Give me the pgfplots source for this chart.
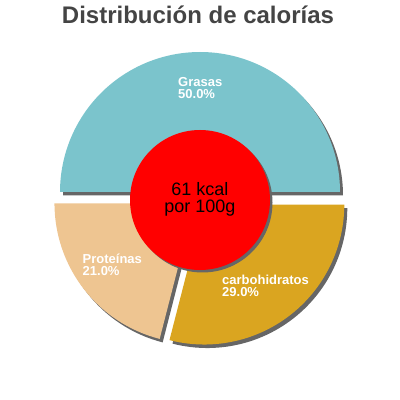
\documentclass[border=0pt]{standalone}
\usepackage{pgfplots}
\pgfplotsset{compat=1.18}
\usepackage{fontspec}
\setmainfont{Liberation Sans}
\definecolor{cG}{HTML}{7BC4CC}
\definecolor{cP}{HTML}{EEC591}
\definecolor{cC}{HTML}{DAA520}
\definecolor{cS}{HTML}{666666}
\definecolor{cT}{HTML}{444444}
% values (percent of calories)
\def\vG{50.0}
\def\vP{21.0}
\def\vC{29.0}
\pgfkeys{/pgf/number format/assume math mode=true}
\begin{document}
\begin{tikzpicture}
\useasboundingbox (0,0) rectangle (400pt,400pt);
\pgfmathsetmacro{\gS}{0}
\pgfmathsetmacro{\gE}{\gS+3.6*\vG}
\pgfmathsetmacro{\pS}{\gE}
\pgfmathsetmacro{\pE}{\pS+3.6*\vP}
\pgfmathsetmacro{\cS}{\pE}
\pgfmathsetmacro{\cE}{\cS+3.6*\vC}
\pgfmathsetmacro{\gM}{(\gS+\gE)/2}
\pgfmathsetmacro{\pM}{(\pS+\pE)/2}
\pgfmathsetmacro{\cM}{(\cS+\cE)/2}
\begin{axis}[at={(0,0)},anchor=south west,width=400pt,height=400pt,scale only axis,
  xmin=0,xmax=400,ymin=0,ymax=400,enlargelimits=false,hide axis,clip=false]
% shadows
\fill[cS,shift={(\gM:7pt)},xshift=3pt,yshift=-3.5pt] (axis cs:200,201) -- ++(\gS:140pt) arc[start angle=\gS,end angle=\gE,radius=140pt] -- cycle;
\fill[cS,shift={(\pM:7pt)},xshift=3pt,yshift=-3.5pt] (axis cs:200,201) -- ++(\pS:140pt) arc[start angle=\pS,end angle=\pE,radius=140pt] -- cycle;
\fill[cS,shift={(\cM:7pt)},xshift=3pt,yshift=-3.5pt] (axis cs:200,201) -- ++(\cS:140pt) arc[start angle=\cS,end angle=\cE,radius=140pt] -- cycle;
% slices
\fill[cG,shift={(\gM:7pt)}] (axis cs:200,201) -- ++(\gS:140pt) arc[start angle=\gS,end angle=\gE,radius=140pt] -- cycle;
\fill[cP,shift={(\pM:7pt)}] (axis cs:200,201) -- ++(\pS:140pt) arc[start angle=\pS,end angle=\pE,radius=140pt] -- cycle;
\fill[cC,shift={(\cM:7pt)}] (axis cs:200,201) -- ++(\cS:140pt) arc[start angle=\cS,end angle=\cE,radius=140pt] -- cycle;
% centre circle
\fill[cS] (axis cs:202.5,197.5) circle[radius=70pt];
\fill[red] (axis cs:200,200) circle[radius=70pt];
\node[anchor=base,font=\fontsize{18}{18}\selectfont,inner sep=0] at (axis cs:200,204) {61 kcal};
\node[anchor=base,font=\fontsize{18}{18}\selectfont,inner sep=0] at (axis cs:200,187) {por 100g};
% labels
\node[anchor=base west,white,font=\bfseries\fontsize{13}{13}\selectfont,inner sep=0] at (axis cs:178,313) {Grasas};
\node[anchor=base west,white,font=\bfseries\fontsize{13}{13}\selectfont,inner sep=0] at (axis cs:178,301) {\pgfmathprintnumber[fixed,fixed zerofill,precision=1]{\vG}\%};
\node[anchor=base west,white,font=\bfseries\fontsize{13}{13}\selectfont,inner sep=0] at (axis cs:82.5,136) {Proteínas};
\node[anchor=base west,white,font=\bfseries\fontsize{13}{13}\selectfont,inner sep=0] at (axis cs:82.5,124) {\pgfmathprintnumber[fixed,fixed zerofill,precision=1]{\vP}\%};
\node[anchor=base west,white,font=\bfseries\fontsize{13}{13}\selectfont,inner sep=0] at (axis cs:222,115) {carbohidratos};
\node[anchor=base west,white,font=\bfseries\fontsize{13}{13}\selectfont,inner sep=0] at (axis cs:222,103) {\pgfmathprintnumber[fixed,fixed zerofill,precision=1]{\vC}\%};
% title
\node[anchor=base,cT,font=\bfseries\fontsize{24}{24}\selectfont,inner sep=0] at (axis cs:198,376.5) {Distribución de calorías};
\end{axis}
\end{tikzpicture}
\end{document}
